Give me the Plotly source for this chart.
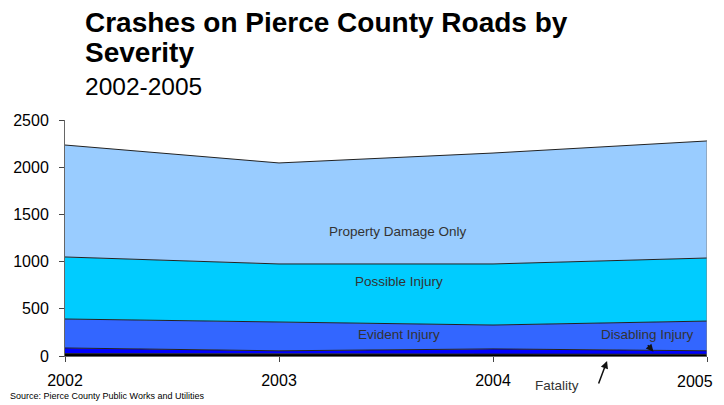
import plotly.graph_objects as go

years = [2002, 2003, 2004, 2005]
year_labels = ["2002", "2003", "2004", "2005"]
fatality = [25, 20, 22, 18]
disabling = [60, 35, 53, 37]
evident = [307, 305, 253, 315]
possible = [657, 615, 647, 668]
property_damage = [1186, 1070, 1175, 1240]

series = [
    ("Fatality", fatality, "#000000"),
    ("Disabling Injury", disabling, "#0000FF"),
    ("Evident Injury", evident, "#3366FF"),
    ("Possible Injury", possible, "#00CCFF"),
    ("Property Damage Only", property_damage, "#99CCFF"),
]

fig = go.Figure()
for name, vals, col in series:
    fig.add_trace(go.Scatter(
        x=years, y=vals, name=name, stackgroup="one", mode="lines",
        line=dict(color="#222222", width=1), fillcolor=col,
    ))

# right edge of the stacked area
total = [sum(v) for v in zip(*[s[1] for s in series])]
fig.add_trace(go.Scatter(x=[years[-1], years[-1]], y=[0, total[-1]], mode="lines",
                         line=dict(color="#888888", width=1), hoverinfo="skip"))

font = "Liberation Sans, Arial, sans-serif"
lab = dict(size=13.5, color="#333333", family=font)
notes = [
    dict(x=2003.556, y=1324, text="Property Damage Only"),
    dict(x=2003.56, y=784, text="Possible Injury"),
    dict(x=2003.56, y=233, text="Evident Injury"),
    dict(x=2004.724, y=233, text="Disabling Injury"),
]
for n in notes:
    fig.add_annotation(x=n["x"], y=n["y"], text=n["text"], showarrow=False, font=lab)

# fatality label sits under the axis, so y is in paper units
fig.add_annotation(x=2004.3, yref="paper", y=-0.123, yanchor="middle",
                   text="Fatality", showarrow=False, font=lab)
fig.add_annotation(x=2004.533, yref="paper", y=-0.021, ax=-9, ay=24, text="",
                   showarrow=True, arrowhead=2, arrowsize=1, arrowwidth=1.5,
                   arrowcolor="#111111")
fig.add_annotation(x=2004.75, y=45, ax=-7, ay=-8, text="", showarrow=True,
                   arrowhead=2, arrowsize=1, arrowwidth=1.5, arrowcolor="#111111")

# last year label pulled in from the right edge so it is not cut
fig.add_annotation(x=years[-1], yref="paper", y=-0.108, xanchor="right", yanchor="middle",
                   xshift=8, text=year_labels[-1], showarrow=False,
                   font=dict(size=16, color="#000000", family=font))

# titles
title_font = dict(size=28, color="#000000", family=font)
fig.add_annotation(xref="paper", yref="paper", x=0.028, y=1.415, xanchor="left",
                   yanchor="middle", text="<b>Crashes on Pierce County Roads by</b>",
                   showarrow=False, font=title_font)
fig.add_annotation(xref="paper", yref="paper", x=0.028, y=1.284, xanchor="left",
                   yanchor="middle", text="<b>Severity</b>", showarrow=False,
                   font=title_font)
fig.add_annotation(xref="paper", yref="paper", x=0.028, y=1.144, xanchor="left",
                   yanchor="middle", text="2002-2005", showarrow=False,
                   font=dict(size=24.5, color="#000000", family=font))
fig.add_annotation(xref="paper", yref="paper", x=-0.0885, y=-0.169, xanchor="left",
                   yanchor="middle", text="Source: Pierce County Public Works and Utilities",
                   showarrow=False, font=dict(size=9, color="#000000", family=font))

# page body adds an 8px offset, so the figure is 8px smaller to avoid scrollbars
fig.update_layout(
    width=716, height=397,
    margin=dict(l=57, r=17, t=112, b=49),
    paper_bgcolor="white", plot_bgcolor="white",
    showlegend=False,
    font=dict(family=font, color="#000000"),
)
fig.update_xaxes(range=[2002, 2005], tickvals=years, ticktext=year_labels[:-1] + [""],
                 ticks="outside", ticklen=5,
                 showline=True, linecolor="#666666", showgrid=False, zeroline=False,
                 tickfont=dict(size=16), ticklabelstandoff=5, automargin=False)
fig.update_yaxes(range=[0, 2500], dtick=500, ticks="outside", ticklen=5,
                 showline=True, linecolor="#666666", showgrid=False, zeroline=False,
                 tickfont=dict(size=16), ticklabelstandoff=7, automargin=False)

fig.write_html("out.html")
